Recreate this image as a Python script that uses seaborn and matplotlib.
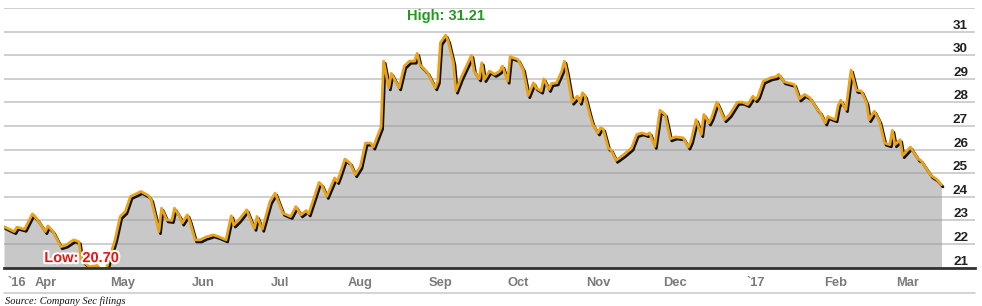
import numpy as np
import pandas as pd
import matplotlib
matplotlib.use("Agg")
import matplotlib.pyplot as plt
import matplotlib.patheffects as pe
from matplotlib.lines import Line2D
import seaborn as sns

# ---------------- data ----------------
base_date = "2016-04-01"
day_offsets = [
    -16, -12, -11, -8, -5, -3, 0, 1, 3, 6, 8, 11, 13, 14, 17, 20, 23, 25, 27, 29,
    31, 33, 35, 37, 40, 41, 44, 45, 47, 49, 50, 52, 53, 55, 56, 58, 60, 62, 65, 67,
    70, 72, 73, 75, 78, 80, 81, 82, 84, 87, 89, 90, 92, 95, 97, 99, 101, 102, 106, 107,
    109, 112, 113, 114, 116, 118, 120, 122, 124, 126, 127, 129, 130, 131, 133, 134, 137, 139, 141, 143,
    144, 145, 148, 151, 152, 153, 155, 156, 158, 159, 161, 165, 166, 168, 169, 170, 172, 174, 176, 177,
    179, 180, 183, 185, 187, 189, 190, 192, 193, 195, 196, 198, 200, 201, 202, 204, 206, 207, 208, 209,
    211, 212, 214, 215, 216, 218, 219, 221, 224, 227, 229, 231, 233, 234, 236, 238, 240, 242, 244, 247,
    249, 250, 252, 254, 255, 257, 258, 260, 261, 263, 265, 268, 270, 272, 274, 275, 276, 278, 281, 283,
    284, 286, 290, 292, 294, 296, 299, 300, 302, 303, 304, 306, 307, 308, 310, 312, 314, 316, 318, 319,
    321, 323, 325, 327, 328, 329, 331, 332, 335, 336, 338, 339, 343, 345, 347,
]
prices = [
    22.74, 22.53, 22.72, 22.63, 23.28, 23.03, 22.53, 22.77, 22.53, 21.89, 21.96, 22.18, 22.10, 21.33, 21.04, 21.10, 20.70, 21.47, 22.18, 23.17,
    23.38, 24.02, 24.12, 24.23, 24.05, 23.88, 22.53, 23.52, 23.03, 23.00, 23.52, 23.17, 22.89, 23.24, 22.95, 22.18, 22.18, 22.29, 22.39, 22.32,
    22.18, 23.20, 22.81, 23.03, 23.45, 22.89, 22.67, 23.17, 22.63, 23.80, 24.16, 23.88, 23.31, 23.17, 23.59, 23.24, 23.42, 23.28, 24.61, 24.51,
    24.02, 24.80, 24.65, 24.94, 25.60, 25.43, 24.94, 25.29, 26.28, 26.28, 26.11, 26.68, 26.96, 29.75, 28.62, 29.23, 28.62, 29.54, 29.75, 29.75,
    30.08, 29.61, 29.26, 28.62, 28.90, 30.53, 30.85, 30.60, 29.68, 28.48, 29.05, 29.99, 29.33, 29.00, 29.68, 28.97, 29.33, 29.19, 29.33, 29.54,
    28.90, 29.94, 29.82, 29.40, 28.29, 28.83, 28.62, 28.48, 29.00, 28.55, 28.80, 28.83, 29.33, 29.75, 29.26, 28.01, 28.26, 28.01, 28.41, 28.26,
    27.41, 27.06, 26.71, 26.92, 26.88, 26.07, 26.00, 25.55, 25.79, 26.07, 26.64, 26.71, 26.64, 26.71, 26.14, 27.67, 27.49, 26.46, 26.54, 26.50,
    26.11, 26.35, 27.27, 26.64, 27.49, 27.13, 27.35, 28.01, 27.77, 27.27, 27.49, 28.01, 28.01, 27.91, 28.26, 28.12, 28.26, 28.90, 29.05, 29.09,
    29.19, 28.88, 28.76, 28.15, 28.34, 28.20, 27.70, 27.58, 27.13, 27.41, 27.35, 27.27, 27.87, 28.09, 27.70, 29.37, 28.52, 28.48, 27.98, 27.27,
    27.63, 27.20, 26.28, 26.21, 26.82, 26.21, 26.42, 25.75, 26.11, 25.93, 25.60, 25.55, 24.90, 24.76, 24.51,
]
y_ticks = list(range(21, 33))
y_labels = [str(v) for v in range(21, 32)]
tick_dates = ["2016-03-21", "2016-04-01", "2016-05-01", "2016-06-01", "2016-07-01",
              "2016-08-01", "2016-09-01", "2016-10-01", "2016-11-01", "2016-12-01",
              "2017-01-01", "2017-02-01", "2017-03-01"]
tick_labels = ["`16", "Apr", "May", "Jun", "Jul", "Aug", "Sep", "Oct", "Nov", "Dec",
               "`17", "Feb", "Mar"]
x_start, x_end = "2016-03-16", "2017-03-27"
high_value = 31.21
low_value = 20.70
source_text = "Source: Company Sec filings"

# ---------------- style ----------------
sns.set_style("white")
plt.rcParams["font.family"] = ["Liberation Sans", "DejaVu Sans"]

dates = pd.Timestamp(base_date) + pd.to_timedelta(day_offsets, unit="D")
df = pd.DataFrame({"date": dates, "price": prices})

fig = plt.figure(figsize=(9.82, 3.06), dpi=100)
ax = fig.add_axes([4 / 982, 1 - 267.7 / 306, 971 / 982, (267.7 - 8) / 306])

ax.fill_between(df["date"], df["price"], 20, color="#c8c8c8", linewidth=0, zorder=1)
sns.lineplot(
    data=df, x="date", y="price", ax=ax, color="#e9a31b", linewidth=2.0, zorder=3,
    path_effects=[pe.SimpleLineShadow(offset=(1.1, -1.5), shadow_color="#111111", alpha=1.0),
                  pe.Normal()],
)

ax.set_xlim(pd.Timestamp(x_start), pd.Timestamp(x_end))
ax.set_ylim(21, 32)
ax.set_yticks(y_ticks)
ax.set_yticklabels([])
ax.set_xticks(pd.to_datetime(tick_dates))
ax.set_xticklabels(tick_labels)
ax.tick_params(axis="both", length=0)
ax.tick_params(axis="x", pad=7, labelsize=9.3, labelcolor="#7a7a7a")
for lbl in ax.get_xticklabels():
    lbl.set_fontweight("bold")
ax.set_xlabel("")
ax.set_ylabel("")

ax.set_axisbelow(False)
ax.grid(axis="y", color="#9a9a9a", alpha=0.55, linewidth=1.2)
ax.grid(axis="x", visible=False)
for s in ["top", "left", "right"]:
    ax.spines[s].set_visible(False)
ax.spines["bottom"].set_color("#333333")
ax.spines["bottom"].set_linewidth(2.0)
ax.spines["bottom"].set_zorder(4)

for v in y_labels:
    ax.annotate(v, xy=(1, float(v)), xycoords=("axes fraction", "data"),
                xytext=(-5, 2.2), textcoords="offset points", ha="right", va="baseline",
                fontsize=9.7, fontweight="bold", color="#222222", zorder=5)

i_max = df["price"].idxmax()
i_min = df["price"].idxmin()
ax.annotate(f"High: {high_value:.2f}", xy=(df["date"][i_max], high_value),
            xytext=(0, 7.5), textcoords="offset points", ha="center", va="center",
            fontsize=10.5, fontweight="bold", color="#1f9a1f", annotation_clip=False)
ax.annotate(f"Low: {low_value:.2f}", xy=(df["date"][i_min], low_value),
            xytext=(-16.4, 12), textcoords="offset points", ha="center", va="center",
            fontsize=10.5, fontweight="bold", color="#ee1111", annotation_clip=False,
            zorder=6, path_effects=[pe.withStroke(linewidth=3, foreground="white")])

fig.add_artist(Line2D([4 / 982, 975 / 982], [1 - 293 / 306, 1 - 293 / 306],
                      transform=fig.transFigure, color="#cccccc", linewidth=1.2))
fig.text(5 / 982, 1 - 304.5 / 306, source_text, ha="left", va="baseline", fontsize=7.5,
         fontstyle="italic", family=["Liberation Serif", "DejaVu Serif"], color="#111111")

fig.savefig("out.png", dpi=100)
